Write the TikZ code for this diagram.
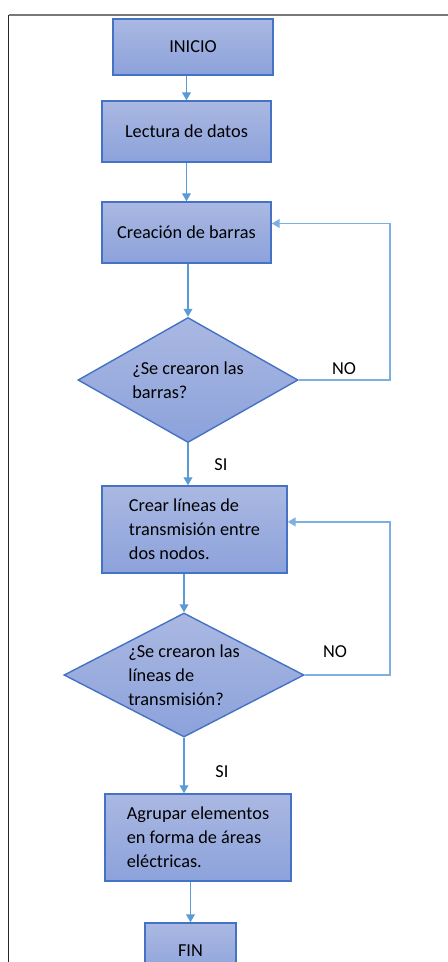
\documentclass[tikz,border=0pt]{standalone}
\usepackage{fontspec}
\setmainfont{Carlito}
\usepackage{tikz}
\usetikzlibrary{arrows.meta,positioning,shapes.geometric,calc}
\definecolor{fcedge}{RGB}{68,114,196}
\definecolor{fctop}{RGB}{170,184,226}
\definecolor{fcbot}{RGB}{140,162,219}
\definecolor{fcarr}{RGB}{91,155,213}
\definecolor{fcback}{RGB}{125,175,225}
\definecolor{fcframe}{RGB}{120,120,120}
\tikzset{
  fcbox/.style={
    draw=fcedge, line width=1pt, top color=fctop, bottom color=fcbot,
    align=left, inner sep=3pt, font=\fontsize{13}{17}\selectfont
  },
  fcdia/.style={
    fcbox, diamond, inner sep=0pt
  },
  arr/.style={-{Triangle[length=2mm,width=2.2mm]}, draw=fcarr, line width=1pt},
  backarr/.style={arr, draw=fcback, line width=1.2pt},
  lbl/.style={font=\fontsize{13}{17}\selectfont}
}
\begin{document}
\begin{tikzpicture}[x=0.025cm,y=-0.025cm]
  \useasboundingbox (0,0) rectangle (448,962);
  % page frame
  \draw[fcframe, line width=1.2pt] (8.5,15) -- (448,15);
  \draw[black!85, line width=1.2pt] (8.5,962) -- (8.5,15);
  \coordinate (rail) at (390,0);
  % boxes
  \node[fcbox, minimum width=4cm, minimum height=1.4cm, align=center] (inicio) at (193,47) {INICIO};
  \node[fcbox, minimum width=4.225cm, minimum height=1.525cm] (lectura) at (186.5,131.5) {Lectura de datos};
  \node[fcbox, minimum width=4.225cm, minimum height=1.525cm] (creacion) at (186.5,232.5) {Creación de barras};
  \node[fcdia, aspect=1.76, minimum width=5.5cm, minimum height=3.125cm] (dia1) at (188,380)
    {¿Se crearon las\\barras?};
  \node[fcbox, minimum width=4.625cm, minimum height=2.175cm] (crear) at (194.5,529.5)
    {Crear líneas de\\transmisión entre\\dos nodos.};
  \node[fcdia, aspect=1.91, minimum width=6cm, minimum height=3.1cm] (dia2) at (184,675)
    {¿Se crearon las\\líneas de\\transmisión?};
  \node[fcbox, minimum width=4.65cm, minimum height=2.175cm] (agrupar) at (198,837.5)
    {Agrupar elementos\\en forma de áreas\\eléctricas.};
  \node[fcbox, minimum width=2.275cm, minimum height=1.4cm, align=center] (fin) at (190.5,951) {FIN};
  % connectors
  \draw[arr] (inicio.south -| lectura.north) -- (lectura.north);
  \draw[arr] (lectura.south) -- (creacion.north);
  \draw[arr] (creacion.south -| dia1.north) -- (dia1.north);
  \draw[arr] (dia1.south) -- (dia1.south |- crear.north);
  \draw[arr] (crear.south -| dia2.north) -- (dia2.north);
  \draw[arr] (dia2.south) -- (dia2.south |- agrupar.north);
  \draw[arr] (agrupar.south -| fin.north) -- (fin.north);
  \draw[backarr] (dia1.east) -- (dia1.east -| rail) |- ([yshift=0.225cm]creacion.east);
  \draw[backarr] (dia2.east) -- (dia2.east -| rail) |- ([yshift=0.19cm]crear.east);
  % labels
  \node[lbl] (no1) at (344,369) {NO};
  \node[lbl] (no2) at (335,652) {NO};
  \node[lbl] (si1) at (221,465) {SI};
  \node[lbl] (si2) at (222,772) {SI};
\end{tikzpicture}
\end{document}
